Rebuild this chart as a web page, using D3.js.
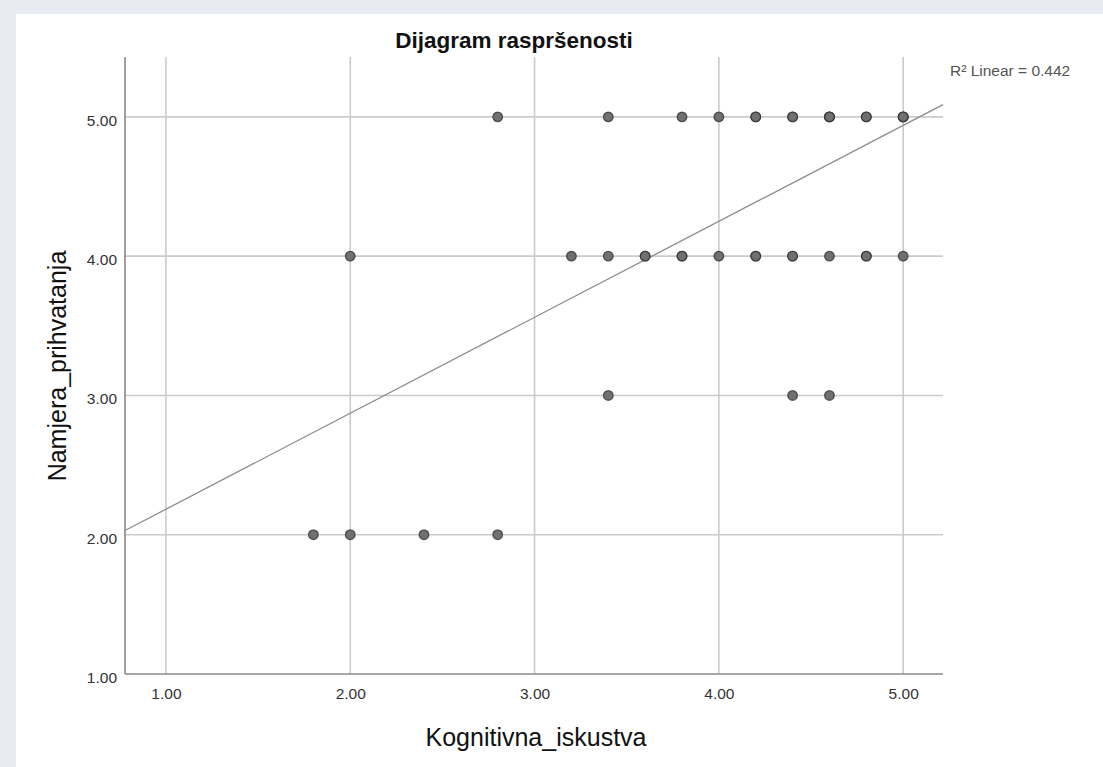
<!DOCTYPE html>
<html>
<head>
<meta charset="utf-8">
<script src="https://cdn.jsdelivr.net/npm/d3@7"></script>
<style>
  html, body { margin: 0; padding: 0; background: #e9ebf3; }
  svg { display: block; }
</style>
</head>
<body>
<script>
// Observations (Kognitivna_iskustva, Namjera_prihvatanja); repeated pairs are listed once per case
const xValues = [2.8, 3.4, 3.8, 4.0, 4.2, 4.2, 4.4, 4.4, 4.6, 4.6, 4.6, 4.8, 4.8, 5.0, 5.0, 5.0,
                 2.0, 3.2, 3.4, 3.6, 3.6, 3.8, 3.8, 4.0, 4.2, 4.2, 4.4, 4.4, 4.6, 4.8, 4.8, 5.0,
                 3.4, 4.4, 4.6,
                 1.8, 2.0, 2.4, 2.8];
const yValues = [5, 5, 5, 5, 5, 5, 5, 5, 5, 5, 5, 5, 5, 5, 5, 5,
                 4, 4, 4, 4, 4, 4, 4, 4, 4, 4, 4, 4, 4, 4, 4, 4,
                 3, 3, 3,
                 2, 2, 2, 2];
const xTicks = [1, 2, 3, 4, 5];
const yTicks = [1, 2, 3, 4, 5];
// Linear fit line
const fitIntercept = 1.494;
const fitSlope = 0.689;
const rSquared = 0.442;

const W = 1103, H = 767;
const FONT = "Liberation Sans, Arial, sans-serif";
const svg = d3.select("body").append("svg").attr("width", W).attr("height", H);

// white panel
svg.append("rect").attr("x", 16).attr("y", 14).attr("width", W - 16).attr("height", H - 14).attr("fill", "#ffffff");

const pLeft = 125, pRight = 943, pTop = 57, pBottom = 674;
const x = d3.scaleLinear().domain([0.778, 5.216]).range([pLeft, pRight]);
const y = d3.scaleLinear().domain([1, 5.43]).range([pBottom, pTop]);

// grid lines
const g = svg.append("g");
g.selectAll(".vg").data(xTicks).join("line")
  .attr("x1", d => x(d)).attr("x2", d => x(d)).attr("y1", pTop).attr("y2", pBottom)
  .attr("stroke", "#cbcbcb").attr("stroke-width", 1.6);
g.selectAll(".hg").data(yTicks.filter(d => d > 1)).join("line")
  .attr("x1", pLeft).attr("x2", pRight).attr("y1", d => y(d)).attr("y2", d => y(d))
  .attr("stroke", "#cbcbcb").attr("stroke-width", 1.6);

// axes
const xAxis = d3.axisBottom(x).tickValues(xTicks).tickFormat(d3.format(".2f")).tickSize(0).tickPadding(14);
const yAxis = d3.axisLeft(y).tickValues(yTicks).tickFormat(d3.format(".2f")).tickSize(0).tickPadding(8);
const xa = svg.append("g").attr("transform", `translate(0,${pBottom})`).call(xAxis);
const ya = svg.append("g").attr("transform", `translate(${pLeft},0)`).call(yAxis);
[xa, ya].forEach(a => {
  a.select(".domain").remove();
  a.attr("font-family", FONT).attr("font-size", 15.5);
  a.selectAll("text").attr("fill", "#333");
});
ya.selectAll("text").attr("dy", "0.55em");
svg.append("line").attr("x1", pLeft).attr("x2", pLeft).attr("y1", pTop).attr("y2", pBottom)
  .attr("stroke", "#888").attr("stroke-width", 1.6);
svg.append("line").attr("x1", pLeft).attr("x2", pRight).attr("y1", pBottom).attr("y2", pBottom)
  .attr("stroke", "#888").attr("stroke-width", 1.6);

// fit line
const x0 = x.domain()[0], x1 = x.domain()[1];
svg.append("line")
  .attr("x1", x(x0)).attr("y1", y(fitIntercept + fitSlope * x0))
  .attr("x2", x(x1)).attr("y2", y(fitIntercept + fitSlope * x1))
  .attr("stroke", "#8c8c8c").attr("stroke-width", 1.3);

// points
svg.append("g").selectAll("circle").data(xValues.map((v, i) => [v, yValues[i]])).join("circle")
  .attr("cx", d => x(d[0])).attr("cy", d => y(d[1])).attr("r", 4.8)
  .attr("fill", "#707070").attr("stroke", "#2e2e2e").attr("stroke-width", 1.3).attr("stroke-opacity", 0.75);

// texts
svg.append("text").attr("x", 514).attr("y", 48).attr("text-anchor", "middle")
  .attr("font-family", FONT).attr("font-size", 22.5).attr("font-weight", "bold")
  .attr("fill", "#111").text("Dijagram raspršenosti");
svg.append("text").attr("x", 950).attr("y", 76)
  .attr("font-family", FONT).attr("font-size", 15.5)
  .attr("fill", "#555").text("R² Linear = " + rSquared.toFixed(3));
svg.append("text").attr("x", 536).attr("y", 746).attr("text-anchor", "middle")
  .attr("font-family", FONT).attr("font-size", 25)
  .attr("fill", "#111").text("Kognitivna_iskustva");
svg.append("text").attr("transform", "translate(66,366) rotate(-90)").attr("text-anchor", "middle")
  .attr("font-family", FONT).attr("font-size", 25)
  .attr("fill", "#111").text("Namjera_prihvatanja");
</script>
</body>
</html>
